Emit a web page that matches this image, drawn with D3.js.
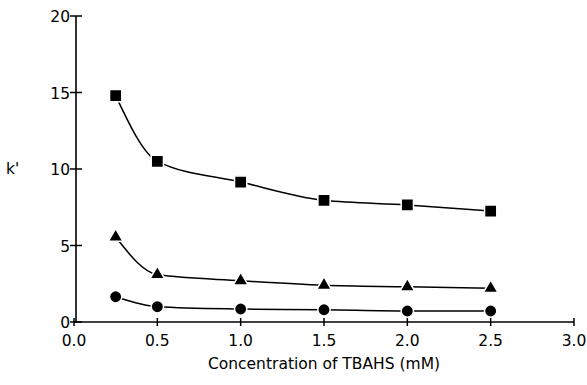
<!DOCTYPE html>
<html>
<head>
<meta charset="utf-8">
<script src="https://cdn.jsdelivr.net/npm/d3@7"></script>
<style>
  body { margin: 0; background: #fff; }
  text { font-family: "DejaVu Sans", sans-serif; fill: #000; }
</style>
</head>
<body>
<div id="chart"></div>
<script>
// k' versus TBAHS concentration, three series

let conc = [0.25, 0.5, 1.0, 1.5, 2.0, 2.5];
let kSquare = [14.8, 10.5, 9.15, 7.95, 7.65, 7.25];
let kTriangle = [5.55, 3.1, 2.7, 2.4, 2.3, 2.2];
let kCircle = [1.65, 1.0, 0.85, 0.8, 0.72, 0.72];
let xTicks = [0, 0.5, 1.0, 1.5, 2.0, 2.5, 3.0];
let yTicks = [0, 5, 10, 15, 20];

let width = 587, height = 385;

let svg = d3.select("#chart").append("svg")
  .attr("width", width)
  .attr("height", height);

let x = d3.scaleLinear().domain([0, 3]).range([74, 574]);
let y = d3.scaleLinear().domain([0, 20]).range([322, 16]);

// axes: ticks crossing the axis line
let xAxis = svg.append("g");
xAxis.append("line")
  .attr("x1", x(0)).attr("x2", x(3))
  .attr("y1", y(0)).attr("y2", y(0))
  .attr("stroke", "#000").attr("stroke-width", 1.6);
xAxis.selectAll(".tk").data(xTicks).enter().append("line")
  .attr("x1", d => x(d)).attr("x2", d => x(d))
  .attr("y1", y(0) - 4).attr("y2", y(0) + 4)
  .attr("stroke", "#000").attr("stroke-width", 1.5);
xAxis.selectAll(".lb").data(xTicks).enter().append("text")
  .attr("x", d => x(d)).attr("y", y(0) + 24)
  .attr("text-anchor", "middle")
  .attr("font-size", 15.5)
  .text(d => d.toFixed(1));

let yAxis = svg.append("g");
yAxis.append("line")
  .attr("x1", x(0) + 2).attr("x2", x(0) + 2)
  .attr("y1", y(0)).attr("y2", y(20))
  .attr("stroke", "#000").attr("stroke-width", 1.6);
yAxis.selectAll(".tk").data(yTicks).enter().append("line")
  .attr("x1", x(0) - 4).attr("x2", x(0) + 8)
  .attr("y1", d => y(d)).attr("y2", d => y(d))
  .attr("stroke", "#000").attr("stroke-width", 1.5);
yAxis.selectAll(".lb").data(yTicks).enter().append("text")
  .attr("x", x(0) - 4).attr("y", d => y(d) + 6)
  .attr("text-anchor", "end")
  .attr("font-size", 15.5)
  .text(d => d);

svg.append("text")
  .attr("x", 6).attr("y", y(10) + 5)
  .attr("font-size", 15.5)
  .text("k'");

svg.append("text")
  .attr("x", x(1.5)).attr("y", 369)
  .attr("text-anchor", "middle")
  .attr("font-size", 15.5)
  .text("Concentration of TBAHS (mM)");

// curves
let line = d3.line()
  .x(d => x(d[0]))
  .y(d => y(d[1]))
  .curve(d3.curveMonotoneX);

let series = [
  { vals: kSquare, sym: d3.symbolSquare, size: 150 },
  { vals: kTriangle, sym: d3.symbolTriangle, size: 95 },
  { vals: kCircle, sym: d3.symbolCircle, size: 120 }
];

series.forEach(function(s) {
  let pts = conc.map((c, i) => [c, s.vals[i]]);
  svg.append("path")
    .attr("d", line(pts))
    .attr("fill", "none")
    .attr("stroke", "#000")
    .attr("stroke-width", 1.5);
  svg.selectAll(null).data(pts).enter().append("path")
    .attr("transform", d => "translate(" + x(d[0]) + "," + y(d[1]) + ")")
    .attr("d", d3.symbol().type(s.sym).size(s.size))
    .attr("fill", "#000")
    .attr("stroke", "#fff")
    .attr("stroke-width", 1.5);
});
</script>
</body>
</html>
